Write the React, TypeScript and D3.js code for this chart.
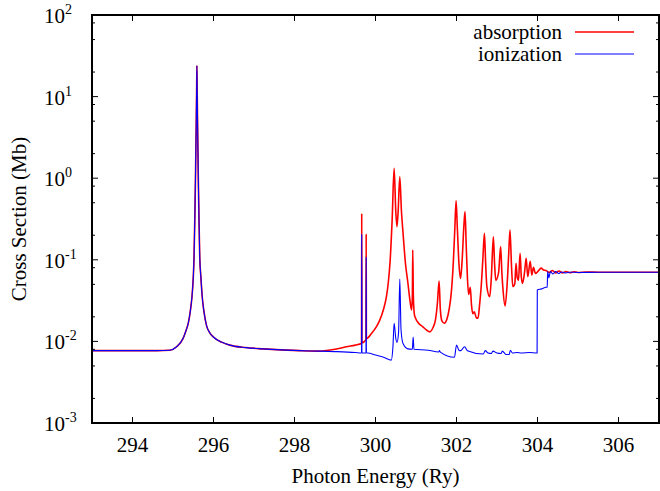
import React from 'react';
import * as d3 from 'd3';

// photon energy (Ry), cross section (Mb) - part where both curves coincide
const sharedCurve: [number, number][] = [
  [293.0, 0.0077], [294.0, 0.0077], [294.6, 0.0077], [294.92, 0.0078], [295.09, 0.0086],
  [295.25, 0.0109], [295.32, 0.0135], [295.38, 0.017], [295.43, 0.024], [295.47, 0.036],
  [295.5, 0.06], [295.52, 0.11], [295.54, 0.35], [295.555, 1.0], [295.57, 3.5],
  [295.585, 14], [295.59, 23.9], [295.595, 14], [295.61, 3.5], [295.625, 1.0],
  [295.64, 0.35], [295.66, 0.11], [295.69, 0.06], [295.72, 0.036], [295.76, 0.024],
  [295.83, 0.0155], [295.91, 0.0127], [295.99, 0.0114], [296.2, 0.0098], [296.4, 0.009],
  [296.8, 0.0084], [297.22, 0.0081], [298.13, 0.0077], [298.62, 0.0076],
];

const absorptionTail: [number, number][] = [
  [299.0, 0.008], [299.28, 0.0086], [299.5, 0.009], [299.655, 0.0094], [299.66, 0.37],
  [299.665, 0.0096], [299.765, 0.0105], [299.77, 0.207], [299.775, 0.0108], [299.9, 0.0125],
  [300.02, 0.0151], [300.1, 0.018], [300.2, 0.025], [300.27, 0.0353], [300.32, 0.055],
  [300.36, 0.095], [300.41, 0.3], [300.46, 1.32], [300.5, 0.4], [300.53, 0.255],
  [300.56, 0.4], [300.6, 1.04], [300.64, 0.4], [300.68, 0.213], [300.74, 0.09],
  [300.8, 0.052], [300.85, 0.032], [300.89, 0.0243], [300.91, 0.035], [300.92, 0.132],
  [300.935, 0.035], [300.96, 0.0215], [300.99, 0.0192], [301.06, 0.0168], [301.17, 0.0151],
  [301.26, 0.0138], [301.34, 0.0131], [301.42, 0.0148], [301.48, 0.0183], [301.53, 0.03],
  [301.57, 0.055], [301.6, 0.025], [301.64, 0.0178], [301.7, 0.0167], [301.76, 0.0185],
  [301.82, 0.025], [301.87, 0.039], [301.92, 0.09], [301.96, 0.25], [301.99, 0.53],
  [302.02, 0.25], [302.06, 0.09], [302.1, 0.059], [302.14, 0.1], [302.18, 0.25],
  [302.21, 0.39], [302.24, 0.15], [302.27, 0.06], [302.3, 0.0375], [302.34, 0.046],
  [302.37, 0.028], [302.4, 0.0219], [302.44, 0.023], [302.49, 0.0195], [302.53, 0.0192],
  [302.57, 0.028], [302.61, 0.047], [302.65, 0.1], [302.69, 0.211], [302.72, 0.09],
  [302.75, 0.047], [302.82, 0.0353], [302.86, 0.06], [302.91, 0.192], [302.94, 0.09],
  [302.97, 0.056], [303.04, 0.07], [303.09, 0.145], [303.12, 0.07], [303.15, 0.042],
  [303.2, 0.0272], [303.25, 0.05], [303.29, 0.12], [303.32, 0.232], [303.36, 0.08],
  [303.39, 0.047], [303.44, 0.0514], [303.47, 0.0906], [303.5, 0.06], [303.53, 0.056],
  [303.57, 0.12], [303.6, 0.062], [303.63, 0.0514], [303.68, 0.07], [303.72, 0.104],
  [303.76, 0.062], [303.82, 0.096], [303.86, 0.065], [303.9, 0.081], [303.95, 0.068],
  [304.01, 0.072], [304.09, 0.079], [304.15, 0.075], [304.21, 0.074], [304.29, 0.07],
  [304.37, 0.074], [304.45, 0.069], [304.53, 0.073], [304.62, 0.069], [304.7, 0.072],
  [304.8, 0.0695], [304.9, 0.0715], [305.0, 0.07], [305.2, 0.0708], [305.5, 0.0703],
  [306.0, 0.0703], [307.0, 0.0703],
];

const ionizationTail: [number, number][] = [
  [299.0, 0.0075], [299.5, 0.0073], [299.655, 0.0072], [299.66, 0.207], [299.665, 0.0072],
  [299.765, 0.0072], [299.77, 0.109], [299.775, 0.0072], [299.81, 0.0072], [300.0, 0.0068],
  [300.2, 0.0064], [300.39, 0.0059], [300.43, 0.0085], [300.46, 0.0167], [300.5, 0.011],
  [300.53, 0.0097], [300.57, 0.013], [300.6, 0.058], [300.63, 0.014], [300.68, 0.0094],
  [300.8, 0.0081], [300.91, 0.008], [300.93, 0.0113], [300.95, 0.008], [301.3, 0.0078],
  [301.56, 0.0074], [301.58, 0.0077], [301.6, 0.0074], [301.95, 0.0064], [302.0, 0.009],
  [302.06, 0.0078], [302.1, 0.0077], [302.2, 0.0086], [302.27, 0.0077], [302.66, 0.007],
  [302.71, 0.0077], [302.78, 0.0072], [302.86, 0.0071], [302.9, 0.0076], [303.0, 0.0072],
  [303.1, 0.0071], [303.13, 0.0076], [303.23, 0.0069], [303.3, 0.0069], [303.33, 0.0078],
  [303.38, 0.0072], [303.5, 0.0073], [303.6, 0.0072], [303.8, 0.0073], [303.99, 0.0072],
  [303.995, 0.0427], [304.1, 0.044], [304.21, 0.046], [304.24, 0.046], [304.25, 0.072],
  [304.28, 0.06], [304.32, 0.072], [304.38, 0.067], [304.45, 0.072], [304.52, 0.068],
  [304.6, 0.071], [304.7, 0.069], [304.8, 0.0705], [305.0, 0.07], [305.5, 0.0703],
  [307.0, 0.0703],
];

const xTicks = [294, 296, 298, 300, 302, 304, 306];
const yDecades = [-3, -2, -1, 0, 1, 2];
const yMinorSteps = [2, 5, 8];

const absorption = sharedCurve.concat(absorptionTail);
const ionization = sharedCurve.concat(ionizationTail);

const W = 660;
const H = 491;
const left = 92, right = 659, top = 15, bottom = 423;
const font = "'Liberation Serif', 'Times New Roman', Times, 'DejaVu Serif', serif";

export default function App() {
  const x = d3.scaleLinear().domain([293, 307]).range([left, right]);
  const y = d3.scaleLog().domain([1e-3, 1e2]).range([bottom, top]);
  const line = d3.line<[number, number]>().x(d => x(d[0])).y(d => y(d[1])).curve(d3.curveMonotoneX);

  const minors: number[] = [];
  yDecades.slice(0, -1).forEach(p => yMinorSteps.forEach(s => minors.push(s * Math.pow(10, p))));

  return (
    <svg width={W} height={H} style={{ position: 'absolute', left: 0, top: 0, background: '#fff', fontFamily: font }}>
      <path d={line(absorption) || ''} fill="none" stroke="#ff0000" strokeWidth={1.6} strokeLinejoin="round" />
      <path d={line(ionization) || ''} fill="none" stroke="#0000ff" strokeWidth={1.1} strokeLinejoin="round" />

      {/* ticks */}
      {xTicks.map(t => (
        <g key={'x' + t}>
          <line x1={x(t)} x2={x(t)} y1={bottom} y2={bottom - 6} stroke="#000" strokeWidth={1} />
          <line x1={x(t)} x2={x(t)} y1={top} y2={top + 6} stroke="#000" strokeWidth={1} />
          <text x={x(t)} y={452} fontSize={21} textAnchor="middle">{t}</text>
        </g>
      ))}
      {yDecades.map(p => (
        <g key={'y' + p}>
          <line x1={left} x2={left + 6} y1={y(Math.pow(10, p))} y2={y(Math.pow(10, p))} stroke="#000" />
          <line x1={right} x2={right - 6} y1={y(Math.pow(10, p))} y2={y(Math.pow(10, p))} stroke="#000" />
          <text x={44} y={y(Math.pow(10, p)) + 8} fontSize={21}>
            10<tspan fontSize={14} dy={-9}>{p}</tspan>
          </text>
        </g>
      ))}
      {minors.map(v => (
        <g key={'m' + v}>
          <line x1={left} x2={left + 3} y1={y(v)} y2={y(v)} stroke="#000" />
          <line x1={right} x2={right - 3} y1={y(v)} y2={y(v)} stroke="#000" />
        </g>
      ))}

      <rect x={left} y={top} width={right - left} height={bottom - top} fill="none" stroke="#000" strokeWidth={2} />

      {/* legend */}
      <text x={562} y={39} fontSize={21} textAnchor="end">absorption</text>
      <line x1={575} x2={634} y1={32} y2={32} stroke="#ff0000" strokeWidth={1.5} />
      <text x={562} y={61} fontSize={21} textAnchor="end">ionization</text>
      <line x1={575} x2={634} y1={54} y2={54} stroke="#0000ff" strokeWidth={1.2} />

      <text x={(left + right) / 2} y={483} fontSize={21} textAnchor="middle">Photon Energy (Ry)</text>
      <text transform={`translate(26,${(top + bottom) / 2}) rotate(-90)`} fontSize={21} textAnchor="middle">
        Cross Section (Mb)
      </text>
    </svg>
  );
}
